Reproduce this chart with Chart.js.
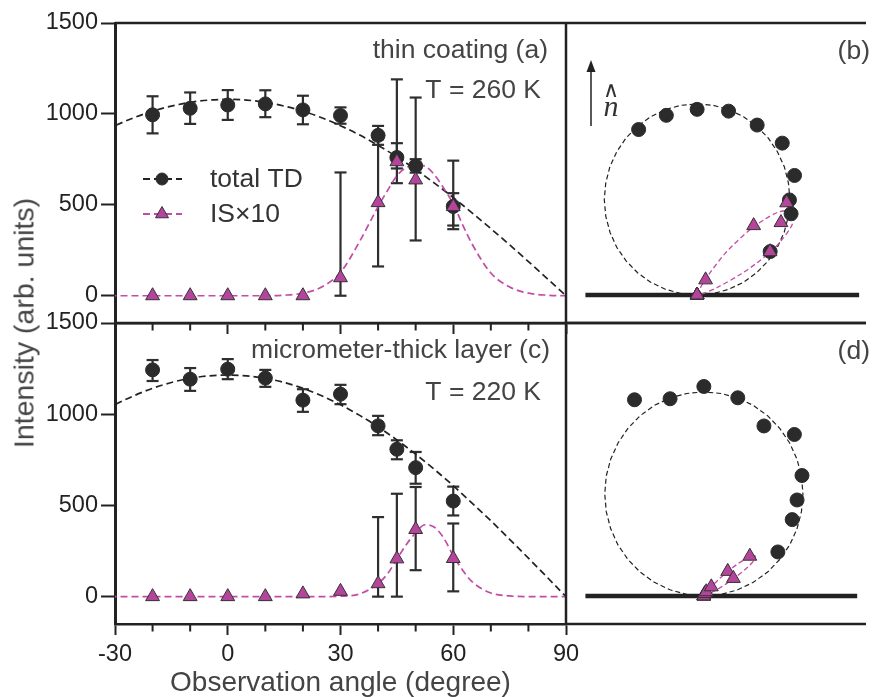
<!DOCTYPE html>
<html>
<head>
<meta charset="utf-8">
<script src="https://cdn.jsdelivr.net/npm/chart.js@4.4.1/dist/chart.umd.min.js"></script>
<style>
  html, body { margin: 0; padding: 0; background: #fff; }
  #wrap { position: relative; width: 875px; height: 697px; overflow: hidden; }
  #wrap canvas { position: absolute; left: 0; top: 0; }
  #ytitle {
    position: absolute; left: 24px; top: 323px;
    transform: translate(-50%, -50%) rotate(-90deg);
    font: 28.5px "Liberation Sans", Arial, sans-serif; color: #444; white-space: nowrap;
  }
</style>
</head>
<body>
<div id="wrap">
  <canvas id="chartC" width="875" height="697"></canvas>
  <canvas id="chartA" width="875" height="697"></canvas>
  <canvas id="chartD" width="875" height="697"></canvas>
  <canvas id="chartB" width="875" height="697"></canvas>
  <div id="ytitle">Intensity (arb. units)</div>
</div>
<script>
// measured angles (degree)
const angles = [-20, -10, 0, 10, 20, 30, 40, 45, 50, 60];

// (a) thin coating, T = 260 K
const tdThin     = [995, 1031, 1049, 1055, 1022, 991, 882, 760, 714, 491];
const tdThinLow  = [893, 945, 967, 982, 943, 946, 830, 700, 677, 386];
const tdThinHigh = [1097, 1118, 1131, 1130, 1100, 1036, 934, 839, 751, 564];
const isThin     = [0, 0, 0, 0, 0, 99, 512, 737, 637, 490];
const isThinLow  = [null, null, null, null, null, 0, 161, 619, 304, 366];
const isThinHigh = [null, null, null, null, null, 678, 860, 1190, 1090, 743];

// (c) micrometer-thick layer, T = 220 K
const tdThick     = [1243, 1192, 1247, 1198, 1077, 1110, 936, 808, 707, 524];
const tdThickLow  = [1182, 1128, 1192, 1150, 1013, 1055, 885, 753, 619, 445];
const tdThickHigh = [1297, 1253, 1302, 1243, 1137, 1161, 991, 857, 793, 603];
const isThick     = [0, 0, 0, 0, 15, 29, 71, 207, 368, 209];
const isThickLow  = [null, null, null, null, null, null, 0, 0, 145, 29];
const isThickHigh = [null, null, null, null, null, null, 436, 564, 601, 401];

// fitted curves
const fitAngles = [-90, -85, -80, -75, -70, -65, -60, -55, -50, -45, -40, -35, -30, -25, -20, -15, -10, -5,
  0, 5, 10, 15, 20, 25, 30, 35, 40, 45, 50, 55, 60, 65, 70, 75, 80, 85, 90];
const fitThin = [0, 94, 188, 280, 369, 456, 540, 619, 694, 764, 827, 885, 935, 979, 1015, 1043, 1064, 1076,
  1080, 1076, 1064, 1043, 1015, 979, 935, 885, 827, 764, 694, 619, 540, 456, 369, 280, 188, 94, 0];
const fitThick = [0, 106, 211, 314, 416, 513, 608, 697, 781, 859, 931, 995, 1052, 1101, 1142, 1174, 1197, 1210,
  1215, 1210, 1197, 1174, 1142, 1101, 1052, 995, 931, 859, 781, 697, 608, 513, 416, 314, 211, 106, 0];
const isFitAngles = [-90, 0, 10, 15, 20, 25, 30, 35, 40, 42.5, 45, 47.5, 50, 52.5, 55, 57.5, 60, 62.5, 65, 70, 75, 80, 85, 90];
const isFitThin  = [0, 0, 0, 3, 14, 48, 128, 295, 490, 578, 660, 705, 720, 712, 665, 590, 505, 390, 285, 125, 48, 14, 3, 0];
const isFitThick = [0, 0, 0, 0, 0, 0, 2, 14, 72, 125, 205, 285, 350, 394, 380, 320, 224, 145, 82, 20, 4, 0, 0, 0];

const yTicks = [0, 500, 1000, 1500];
// surface line in the polar sketches (intensity units along the surface)
const surfaceThin = [-650, 943];
const surfaceThick = [-726, 940];

const INK = '#222';
const TEXT = '#444';
const MAG_FILL = '#b4449c';
const MAG_LINE = '#c24ca6';
const FONT = '"Liberation Sans", Arial, sans-serif';

Chart.defaults.font.family = FONT;
Chart.defaults.color = INK;

function pairs(xs, ys) {
  return xs.map((x, i) => ({x: x, y: ys[i]}));
}

function errorSegments(xs, lo, hi) {
  const out = [];
  xs.forEach((x, i) => {
    if (lo[i] == null) return;
    out.push({x: x, y: lo[i]}, {x: x, y: hi[i]}, {x: x, y: null});
  });
  return out;
}

function polar(angs, vals) {
  return angs.map((a, i) => {
    const t = a * Math.PI / 180;
    return {x: vals[i] * Math.sin(t), y: vals[i] * Math.cos(t)};
  });
}

const errStyle = {
  borderColor: '#2e2e2e', borderWidth: 2.2, pointStyle: 'line', pointRadius: 6,
  pointBorderWidth: 2.2, pointBorderColor: '#2e2e2e', spanGaps: false, order: 5
};

function leftDatasets(td, tdLo, tdHi, is, isLo, isHi, fit, isFit) {
  return [
    Object.assign({data: errorSegments(angles, tdLo, tdHi)}, errStyle),
    Object.assign({data: errorSegments(angles, isLo, isHi)}, errStyle),
    {data: pairs(fitAngles, fit), borderColor: INK, borderWidth: 1.7, borderDash: [7, 4],
      pointRadius: 0, cubicInterpolationMode: 'monotone', order: 4},
    {data: pairs(isFitAngles, isFit), borderColor: MAG_LINE, borderWidth: 1.7, borderDash: [7, 4],
      pointRadius: 0, cubicInterpolationMode: 'monotone', order: 3},
    {data: pairs(angles, td), showLine: false, pointStyle: 'circle', pointRadius: 7,
      backgroundColor: '#2b2b2b', borderColor: '#2b2b2b', borderWidth: 1, order: 2},
    {data: pairs(angles, is), showLine: false, pointStyle: 'triangle', pointRadius: 8,
      backgroundColor: MAG_FILL, borderColor: '#333', borderWidth: 1, order: 1}
  ];
}

function polarDatasets(td, is, fit, isFit, surface) {
  return [
    {data: surface.map(v => ({x: v, y: 0})), showLine: true, borderColor: INK, borderWidth: 4.5,
      pointRadius: 0, order: 5},
    {data: polar(fitAngles, fit), showLine: true, borderColor: INK, borderWidth: 1.2, borderDash: [5, 3],
      pointRadius: 0, order: 4},
    {data: polar(isFitAngles, isFit), showLine: true, borderColor: MAG_LINE, borderWidth: 1.3, borderDash: [5, 3],
      pointRadius: 0, tension: 0.3, order: 3},
    {data: polar(angles, td), pointStyle: 'circle', pointRadius: 7,
      backgroundColor: '#2b2b2b', borderColor: '#2b2b2b', borderWidth: 1, order: 2},
    {data: polar(angles, is), pointStyle: 'triangle', pointRadius: 8,
      backgroundColor: MAG_FILL, borderColor: '#333', borderWidth: 1, order: 1}
  ];
}

// frame lines, minor ticks and text labels
const decor = {
  id: 'decor',
  afterDraw(chart, args, opts) {
    const ctx = chart.ctx;
    const a = chart.chartArea;
    ctx.save();
    ctx.strokeStyle = INK;
    ctx.lineWidth = opts.width || 2.5;
    ctx.beginPath();
    (opts.sides || []).forEach(s => {
      if (s === 'top') { ctx.moveTo(a.left, a.top); ctx.lineTo(a.right, a.top); }
      if (s === 'bottom') { ctx.moveTo(a.left, a.bottom); ctx.lineTo(a.right, a.bottom); }
      if (s === 'right') { ctx.moveTo(a.right, a.top); ctx.lineTo(a.right, a.bottom); }
    });
    ctx.stroke();
    if (opts.minor) {
      const xs = chart.scales.x;
      ctx.lineWidth = 2;
      ctx.beginPath();
      for (let v = xs.min; v <= xs.max; v += 10) {
        if (v % 30 === 0) continue;
        const px = xs.getPixelForValue(v);
        ctx.moveTo(px, a.bottom);
        ctx.lineTo(px, a.bottom + opts.minor);
      }
      ctx.stroke();
    }
    (opts.texts || []).forEach(t => {
      ctx.font = (t.font || '26.5px ' + FONT);
      ctx.fillStyle = t.color || TEXT;
      ctx.textAlign = t.align || 'right';
      ctx.textBaseline = 'alphabetic';
      ctx.fillText(t.text, t.x, t.y);
    });
    if (opts.legend) {
      const rows = [
        {y: 179, color: INK, style: 'circle', r: 6, fill: '#2b2b2b', stroke: '#2b2b2b', text: 'total TD'},
        {y: 214, color: MAG_LINE, style: 'triangle', r: 7.5, fill: MAG_FILL, stroke: '#333', text: 'IS\u00d710'}
      ];
      rows.forEach(r => {
        ctx.strokeStyle = r.color;
        ctx.lineWidth = 1.8;
        ctx.setLineDash([7, 4]);
        ctx.beginPath();
        ctx.moveTo(143, r.y);
        ctx.lineTo(182, r.y);
        ctx.stroke();
        ctx.setLineDash([]);
        ctx.fillStyle = r.fill;
        ctx.strokeStyle = r.stroke;
        ctx.lineWidth = 1;
        Chart.helpers.drawPoint(ctx, {pointStyle: r.style, radius: r.r, rotation: 0, borderWidth: 1}, 162, r.y);
        ctx.font = '26.5px ' + FONT;
        ctx.fillStyle = '#333';
        ctx.textAlign = 'left';
        ctx.textBaseline = 'middle';
        ctx.fillText(r.text, 210, r.y + 1);
      });
    }
    if (opts.normal) {
      ctx.strokeStyle = INK;
      ctx.fillStyle = INK;
      ctx.lineWidth = 1.5;
      ctx.beginPath();
      ctx.moveTo(591, 126);
      ctx.lineTo(591, 70);
      ctx.stroke();
      ctx.beginPath();
      ctx.moveTo(591, 60);
      ctx.lineTo(586.5, 72);
      ctx.lineTo(595.5, 72);
      ctx.closePath();
      ctx.fill();
      ctx.font = '22px "DejaVu Sans", sans-serif';
      ctx.fillStyle = '#333';
      ctx.textAlign = 'center';
      ctx.textBaseline = 'alphabetic';
      ctx.fillText('\u2227', 611, 97);
      ctx.font = 'italic 30px "Liberation Serif", serif';
      ctx.fillText('n', 611, 116);
    }
    ctx.restore();
  }
};

function leftOptions(pad, xHeight, showLabels, extra) {
  return {
    responsive: false,
    animation: false,
    events: [],
    layout: {padding: pad},
    plugins: {legend: {display: false}, tooltip: {enabled: false}, decor: extra},
    scales: {
      x: {
        type: 'linear', min: -30, max: 90,
        afterFit: s => { s.height = xHeight; },
        border: {display: true, color: INK, width: 2.5},
        grid: {drawOnChartArea: false, tickLength: 11, tickWidth: 2, tickColor: INK},
        ticks: {display: showLabels, stepSize: 30, padding: 5, color: INK, font: {size: 23.5},
          callback: v => String(v)},
        title: {display: showLabels, text: 'Observation angle (degree)', color: TEXT,
          font: {size: 28, lineHeight: 1}, padding: {top: 0, bottom: 0}}
      },
      y: {
        type: 'linear', min: -150, max: 1500,
        afterFit: s => { s.width = 115; },
        afterBuildTicks: s => { s.ticks = yTicks.map(v => ({value: v})); },
        border: {display: true, color: INK, width: 3},
        grid: {drawOnChartArea: false, tickLength: 14, tickWidth: 2, tickColor: INK},
        ticks: {padding: 3, color: INK, font: {size: 23.5}, callback: v => String(v)}
      }
    }
  };
}

function polarOptions(pad, xr, yr, extra) {
  return {
    responsive: false,
    animation: false,
    events: [],
    layout: {padding: pad},
    plugins: {legend: {display: false}, tooltip: {enabled: false}, decor: extra},
    scales: {
      x: {type: 'linear', display: false, min: xr[0], max: xr[1]},
      y: {type: 'linear', display: false, min: yr[0], max: yr[1]}
    }
  };
}

new Chart(document.getElementById('chartA'), {
  type: 'line',
  data: {datasets: leftDatasets(tdThin, tdThinLow, tdThinHigh, isThin, isThinLow, isThinHigh, fitThin, isFitThin)},
  options: leftOptions({left: 0, top: 23, right: 309, bottom: 363}, 11, false, {
    sides: ['top', 'right'], minor: 7.5, legend: true,
    texts: [
      {text: 'thin coating (a)', x: 548, y: 58},
      {text: 'T = 260 K', x: 541, y: 98}
    ]
  }),
  plugins: [decor]
});

new Chart(document.getElementById('chartC'), {
  type: 'line',
  data: {datasets: leftDatasets(tdThick, tdThickLow, tdThickHigh, isThick, isThickLow, isThickHigh, fitThick, isFitThick)},
  options: leftOptions({left: 0, top: 323, right: 309, bottom: 0}, 73, true, {
    sides: ['top', 'right'], minor: 7.5,
    texts: [
      {text: 'micrometer-thick layer (c)', x: 550, y: 358},
      {text: 'T = 220 K', x: 541, y: 400}
    ]
  }),
  plugins: [decor]
});

new Chart(document.getElementById('chartB'), {
  type: 'scatter',
  data: {datasets: polarDatasets(tdThin, isThin, fitThin, isFitThin, surfaceThin)},
  options: polarOptions({left: 566, top: 23, right: 0, bottom: 374}, [-763, 983], [-158, 1537], {
    sides: ['top', 'bottom'], normal: true,
    texts: [{text: '(b)', x: 870, y: 59}]
  }),
  plugins: [decor]
});

new Chart(document.getElementById('chartD'), {
  type: 'scatter',
  data: {datasets: polarDatasets(tdThick, isThick, fitThick, isFitThick, surfaceThick)},
  options: polarOptions({left: 566, top: 323, right: 0, bottom: 73}, [-845, 994], [-167, 1625], {
    sides: ['top', 'bottom'],
    texts: [{text: '(d)', x: 870, y: 359}]
  }),
  plugins: [decor]
});
</script>
</body>
</html>
